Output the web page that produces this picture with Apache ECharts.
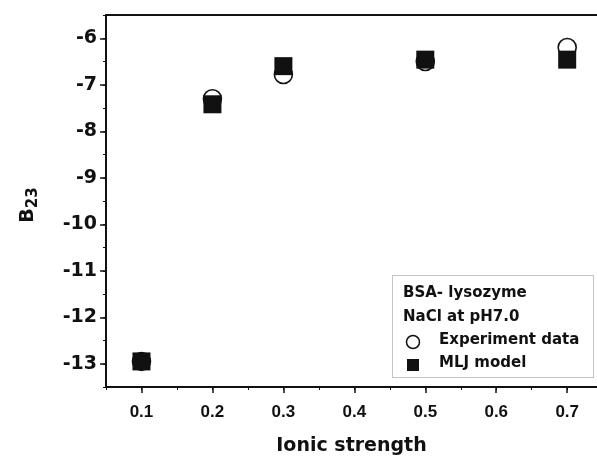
<!DOCTYPE html>
<html><head><meta charset="utf-8">
<script src="https://cdn.jsdelivr.net/npm/echarts@6/dist/echarts.min.js"></script>
<style>html,body{margin:0;padding:0;background:#fff}#c{width:597px;height:456px}</style>
</head><body><div id="c"></div>
<script>
const ionicStrength = [0.1, 0.2, 0.3, 0.5, 0.7];
const experimentData = [-12.95, -7.3, -6.78, -6.5, -6.2];
const mljModel = [-12.95, -7.42, -6.6, -6.46, -6.46];
const legendTitle = ['BSA- lysozyme', 'NaCl at pH7.0'];
const seriesNames = ['Experiment data', 'MLJ model'];
const xTitle = 'Ionic strength';

const FONT = '"Liberation Sans", Arial, sans-serif';
const WIDE = '"DejaVu Sans", sans-serif';
const chart = echarts.init(document.getElementById('c'), null, {renderer: 'canvas'});
const pairs = (xs, ys) => xs.map((x, i) => [x, ys[i]]);

const xBase = {min: 0.05, max: 0.742, gridIndex: 0};
const yBase = {min: -13.5, max: -5.5, gridIndex: 0};

chart.setOption({
  animation: false,
  backgroundColor: '#fff',
  textStyle: {fontFamily: FONT},
  grid: {left: 106, top: 15, right: 0, bottom: 69, containLabel: false, outerBoundsMode: 'none'},
  xAxis: [
    Object.assign({}, xBase, {
      type: 'value', position: 'bottom', splitNumber: 7,
      name: xTitle, nameLocation: 'middle', nameGap: 50,
      nameTextStyle: {fontSize: 19, fontWeight: 'bold', color: '#111', fontFamily: WIDE},
      axisLine: {show: true, onZero: false, lineStyle: {color: '#111', width: 2}},
      axisTick: {show: true, inside: false, length: 6, lineStyle: {color: '#111', width: 1.5}},
      axisLabel: {show: true, margin: 17, fontSize: 17, fontWeight: 'bold', color: '#111', fontFamily: FONT,
        showMinLabel: false, showMaxLabel: false, formatter: v => v.toFixed(1)},
      splitLine: {show: false}
    }),
    Object.assign({}, xBase, {
      type: 'value', position: 'bottom', interval: 0.05,
      axisLine: {show: false, onZero: false},
      axisTick: {show: true, inside: false, length: 3, lineStyle: {color: '#111', width: 1}},
      axisLabel: {show: false}, splitLine: {show: false}
    }),
    Object.assign({}, xBase, {
      type: 'value', position: 'top',
      axisLine: {show: true, onZero: false, lineStyle: {color: '#111', width: 2}},
      axisTick: {show: false}, axisLabel: {show: false}, splitLine: {show: false}
    })
  ],
  yAxis: [
    Object.assign({}, yBase, {
      type: 'value', position: 'left', splitNumber: 8,
      name: '{b|B}{s|23}', nameLocation: 'middle', nameGap: 66,
      nameTextStyle: {
        color: '#111', fontFamily: WIDE, padding: [0, 8, 0, 0],
        rich: {
          b: {fontSize: 19, fontWeight: 'bold', color: '#111', fontFamily: WIDE, lineHeight: 24},
          s: {fontSize: 15, fontWeight: 'bold', color: '#111', fontFamily: WIDE, lineHeight: 24, padding: [10, 0, 0, 0]}
        }
      },
      axisLine: {show: true, onZero: false, lineStyle: {color: '#111', width: 2}},
      axisTick: {show: true, inside: false, length: 6, lineStyle: {color: '#111', width: 1.5}},
      axisLabel: {show: true, margin: 9, fontSize: 19, fontWeight: 'bold', color: '#111', fontFamily: WIDE,
        showMinLabel: false, showMaxLabel: false},
      splitLine: {show: false}
    }),
    Object.assign({}, yBase, {
      type: 'value', position: 'left', interval: 0.5,
      axisLine: {show: false, onZero: false},
      axisTick: {show: true, inside: false, length: 3, lineStyle: {color: '#111', width: 1}},
      axisLabel: {show: false}, splitLine: {show: false}
    })
  ],
  series: [
    {
      name: seriesNames[0], type: 'scatter', xAxisIndex: 0, yAxisIndex: 0,
      symbol: 'circle', symbolSize: 18,
      itemStyle: {color: '#fff', borderColor: '#111', borderWidth: 1.6, opacity: 1},
      data: pairs(ionicStrength, experimentData), z: 3
    },
    {
      name: seriesNames[1], type: 'scatter', xAxisIndex: 0, yAxisIndex: 0,
      symbol: 'rect', symbolSize: 18,
      itemStyle: {color: '#111', opacity: 1},
      data: pairs(ionicStrength, mljModel), z: 4
    }
  ],
  graphic: [
    {type: 'rect', left: 392, top: 275, z: 10,
      shape: {width: 201, height: 102},
      style: {fill: '#fff', stroke: '#888', lineWidth: 1, lineDash: [1, 1]}},
    {type: 'text', left: 403, top: 286, z: 11,
      style: {text: legendTitle[0], font: 'bold 15px ' + WIDE, fill: '#111'}},
    {type: 'text', left: 403, top: 310, z: 11,
      style: {text: legendTitle[1], font: 'bold 15px ' + WIDE, fill: '#111'}},
    {type: 'circle', z: 11, shape: {cx: 413, cy: 342, r: 6.5},
      style: {fill: '#fff', stroke: '#111', lineWidth: 1.5}},
    {type: 'text', left: 439, top: 333, z: 11,
      style: {text: seriesNames[0], font: 'bold 15px ' + WIDE, fill: '#111'}},
    {type: 'rect', z: 11, shape: {x: 407, y: 359, width: 12, height: 12},
      style: {fill: '#111'}},
    {type: 'text', left: 439, top: 356, z: 11,
      style: {text: seriesNames[1], font: 'bold 15px ' + WIDE, fill: '#111'}}
  ]
});
</script>
</body></html>
